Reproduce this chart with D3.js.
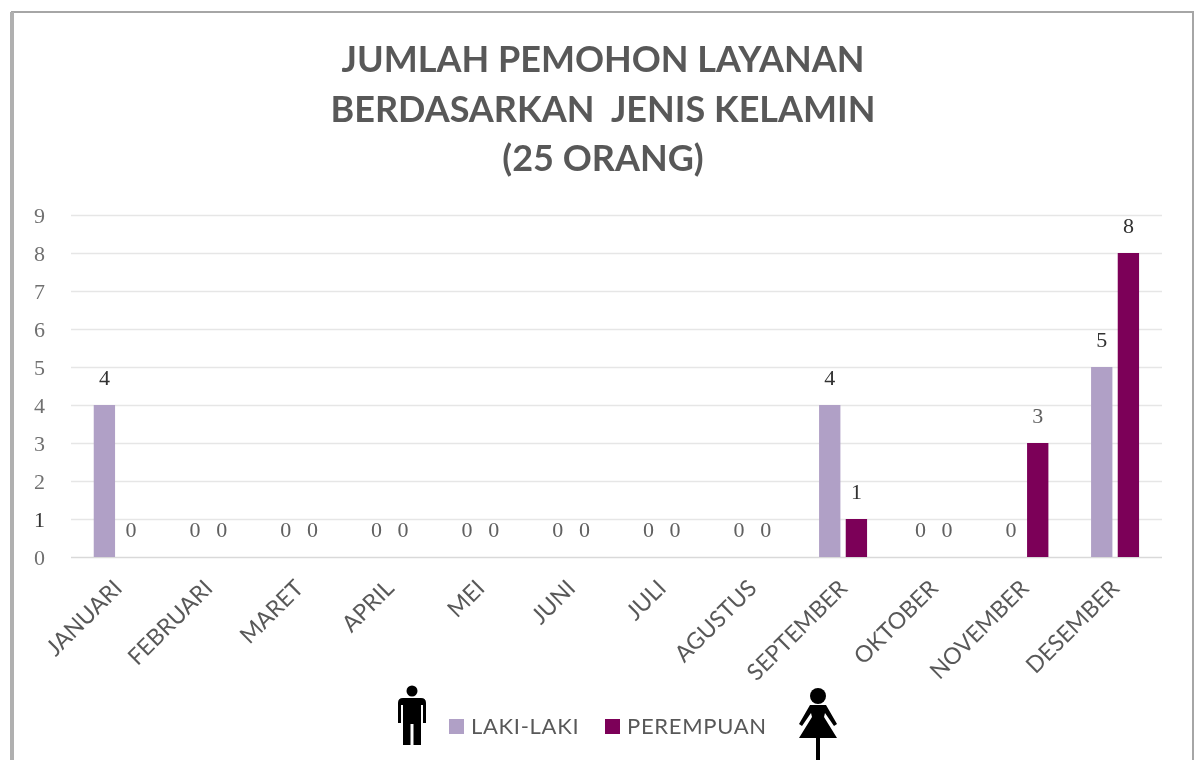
<!DOCTYPE html>
<html>
<head>
<meta charset="utf-8">
<script src="https://cdn.jsdelivr.net/npm/d3@7"></script>
<style>
  body { margin: 0; background: #fff; }
  svg { display: block; }
  text { font-family: Lato, "Open Sans", sans-serif; }
</style>
</head>
<body>
<svg width="1196" height="760"></svg>
<script>
var months = ['JANUARI', 'FEBRUARI', 'MARET', 'APRIL', 'MEI', 'JUNI', 'JULI', 'AGUSTUS', 'SEPTEMBER', 'OKTOBER', 'NOVEMBER', 'DESEMBER']
var lakiLaki = [4, 0, 0, 0, 0, 0, 0, 0, 4, 0, 0, 5]
var perempuan = [0, 0, 0, 0, 0, 0, 0, 0, 1, 0, 3, 8]
var seriesNames = ['LAKI-LAKI', 'PEREMPUAN']
var seriesColors = ['#b0a0c6', '#7b0059']
var titleLines = ['JUMLAH PEMOHON LAYANAN', 'BERDASARKAN  JENIS KELAMIN', '(25 ORANG)']
var yTicks = [0, 1, 2, 3, 4, 5, 6, 7, 8, 9]

var svg = d3.select('svg')

// slightly soft, the reference is an upscaled screenshot
svg.append('defs').append('filter')
  .attr('id', 'soft')
  .append('feGaussianBlur')
  .attr('stdDeviation', 0.65)

var chart = svg.append('g').attr('filter', 'url(#soft)')

// frame, the bottom edge is cut off in the reference
chart.append('path')
  .attr('d', 'M12,760V12H1193V760')
  .style('fill', 'none')
  .style('stroke', '#a6a6a6')
  .style('stroke-width', 2)
chart.append('rect')
  .attr('x', 10).attr('y', 12).attr('width', 4).attr('height', 748)
  .style('fill', '#b0b0b0')

chart.selectAll('.title')
  .data(titleLines)
  .enter()
  .append('text')
  .attr('class', 'title')
  .attr('x', 603)
  .attr('y', function (d, i) { return 72 + i * 49.5 })
  .attr('text-anchor', 'middle')
  .attr('xml:space', 'preserve')
  .style('white-space', 'pre')
  .style('font-size', '36px')
  .style('font-weight', 700)
  .style('fill', '#595959')
  .text(function (d) { return d })

var x = d3.scaleBand()
  .domain(months)
  .range([72.4, 1160.4])

var inner = d3.scaleBand()
  .domain(seriesNames)
  .range([x.bandwidth() / 2 - 24, x.bandwidth() / 2 + 24])
  .paddingInner(0.2)

var y = d3.scaleLinear()
  .domain([0, 9])
  .range([557, 215])

var yAxis = d3.axisLeft(y)
  .tickValues(yTicks)
  .tickSize(-(1162 - 71))
  .tickPadding(26)

var yg = chart.append('g')
  .attr('transform', 'translate(71,0)')
  .call(yAxis)
yg.select('.domain').remove()
yg.selectAll('.tick line')
  .style('stroke', function (d) { return d === 0 ? '#d9d9d9' : '#e6e6e6' })
  .style('stroke-width', 1.6)
yg.selectAll('.tick text')
  .style('font-size', '22px')
  .style('font-family', '"Liberation Serif"')
  .style('fill', function (d) { return d === 1 ? '#303030' : '#707070' })

var xAxis = d3.axisBottom(x).tickSize(0)
var xg = chart.append('g')
  .attr('transform', 'translate(0,557)')
  .call(xAxis)
xg.select('.domain').remove()
xg.selectAll('.tick text')
  .attr('text-anchor', 'end')
  .attr('transform', 'translate(0,27) rotate(-45)')
  .attr('x', 0)
  .attr('y', 0)
  .attr('dy', '0.35em')
  .style('font-size', '23px')
  .style('fill', '#595959')

var groups = chart.selectAll('.series')
  .data([lakiLaki, perempuan])
  .enter()
  .append('g')
  .attr('class', 'series')
  .attr('transform', function (d, i) { return 'translate(' + inner(seriesNames[i]) + ',0)' })

groups.each(function (values, s) {
  var g = d3.select(this)
  g.selectAll('rect')
    .data(values)
    .enter()
    .append('rect')
    .attr('x', function (d, i) { return x(months[i]) })
    .attr('y', function (d) { return y(d) })
    .attr('width', inner.bandwidth())
    .attr('height', function (d) { return y(0) - y(d) })
    .style('fill', seriesColors[s])
  g.selectAll('text')
    .data(values)
    .enter()
    .append('text')
    .attr('x', function (d, i) { return x(months[i]) + inner.bandwidth() / 2 })
    .attr('y', function (d) { return y(d) - 20.5 })
    .attr('text-anchor', 'middle')
    .style('font-size', '22px')
    .style('font-family', '"Liberation Serif"')
    .style('fill', function (d) { return (d === 0 || d === 3) ? '#606060' : '#303030' })
    .text(function (d) { return d })
})

// legend
var legend = chart.selectAll('.legend')
  .data(seriesNames)
  .enter()
  .append('g')
  .attr('class', 'legend')
  .attr('transform', function (d, i) { return 'translate(' + [449, 605][i] + ',719)' })
legend.append('rect')
  .attr('width', 15)
  .attr('height', 15)
  .style('fill', function (d, i) { return seriesColors[i] })
legend.append('text')
  .attr('x', 22)
  .attr('y', 15)
  .style('font-size', '22px')
  .style('letter-spacing', '0.7px')
  .style('fill', '#595959')
  .text(function (d) { return d })

// pictograms next to the legend
var man = chart.append('g').attr('transform', 'translate(412,685)').style('fill', '#000')
man.append('circle').attr('cx', 0).attr('cy', 6).attr('r', 5.5)
man.append('path').attr('d', 'M-9,13H9Q14,13 14,18V38H11V20H9V60H1.5V39H-1.5V60H-9V20H-11V38H-14V18Q-14,13 -9,13Z')

var woman = chart.append('g').attr('transform', 'translate(818,688)').style('fill', '#000')
woman.append('circle').attr('cx', 0).attr('cy', 8).attr('r', 8)
woman.append('path').attr('d', 'M-8,17H8L19,36L16,38L7,25L6,29L19,50H2V72H-2V50H-19L-6,29L-7,25L-16,38L-19,36Z')
</script>
</body>
</html>
